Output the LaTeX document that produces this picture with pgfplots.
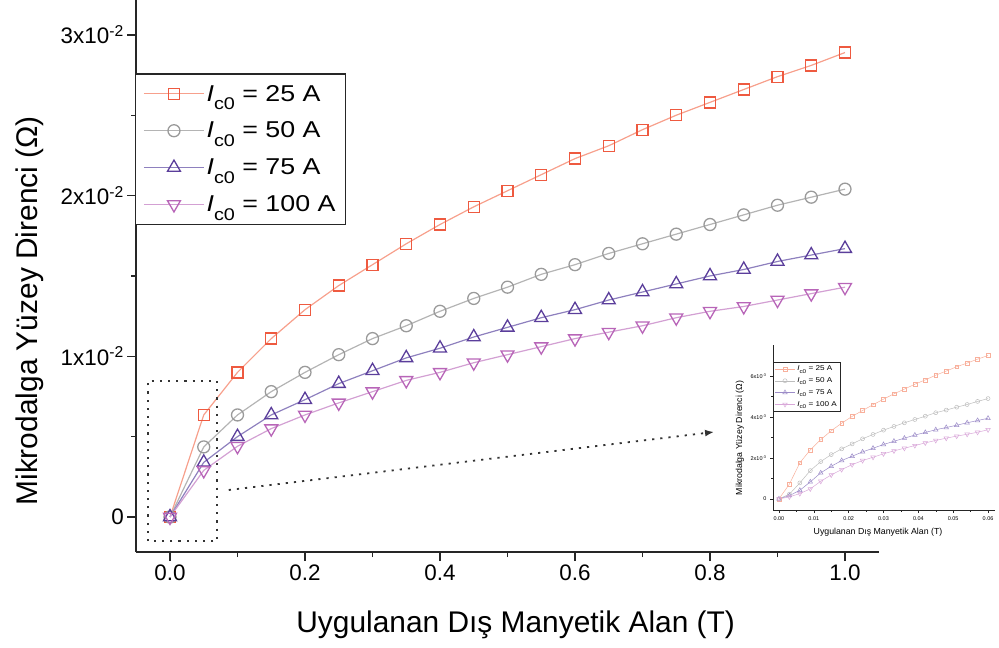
\documentclass[border=0pt]{standalone}
\usepackage{fontspec}
\setmainfont{Liberation Sans}
\newfontfamily\legfont[FakeStretch=1.17]{Liberation Sans}
\usepackage{pgfplots}
\pgfplotsset{compat=1.18}
\usepackage{pgfplotstable}
\usetikzlibrary{arrows.meta}

\definecolor{cAl}{HTML}{F7A08C}\definecolor{cAm}{HTML}{EE5A40}
\definecolor{cBl}{HTML}{B4B4B4}\definecolor{cBm}{HTML}{9A9A9A}
\definecolor{cCl}{HTML}{8E80BE}\definecolor{cCm}{HTML}{5B3E9B}
\definecolor{cDl}{HTML}{D3A0D3}\definecolor{cDm}{HTML}{B865B8}
\definecolor{iA}{HTML}{F8B09C}\definecolor{iB}{HTML}{BDBDBD}
\definecolor{iC}{HTML}{9C8CC8}\definecolor{iD}{HTML}{D9A8D9}

\newcommand{\Ic}{\textit{I}\raisebox{-8.5bp}{\fontsize{17}{18}\selectfont c0}}
\newcommand{\Ics}{\textit{I}\raisebox{-2.5bp}{\fontsize{5.5}{6}\selectfont c0}}

\pgfplotstableread{
x a b c d
0.00 0 0 0 0
0.05 0.00635 0.00436 0.0034 0.0029
0.10 0.0090 0.00635 0.0050 0.0044
0.15 0.0111 0.0078 0.00635 0.0055
0.20 0.0129 0.0090 0.0073 0.00635
0.25 0.0144 0.0101 0.0083 0.0071
0.30 0.0157 0.0111 0.0091 0.0078
0.35 0.0170 0.0119 0.0099 0.0085
0.40 0.0182 0.0128 0.0105 0.0090
0.45 0.0193 0.0136 0.0112 0.0096
0.50 0.0203 0.0143 0.0118 0.0101
0.55 0.0213 0.0151 0.0124 0.0106
0.60 0.0223 0.0157 0.0129 0.0111
0.65 0.0231 0.0164 0.0135 0.0115
0.70 0.0241 0.0170 0.0140 0.0119
0.75 0.0250 0.0176 0.0145 0.0124
0.80 0.0258 0.0182 0.0150 0.0128
0.85 0.0266 0.0188 0.0154 0.0131
0.90 0.0274 0.0194 0.0159 0.0135
0.95 0.0281 0.0199 0.0163 0.0139
1.00 0.0289 0.0204 0.0167 0.0143
}\maintable

\pgfplotstableread{
x a b c d
0.000 0 0 0 0
0.003 0.00072 0.00023 0.00016 0.00010
0.006 0.00176 0.00078 0.00042 0.00026
0.009 0.00239 0.00138 0.00083 0.00049
0.012 0.00289 0.00182 0.00127 0.00086
0.015 0.00332 0.00216 0.00159 0.00117
0.018 0.00369 0.00244 0.00187 0.00143
0.021 0.00402 0.00268 0.00208 0.00167
0.024 0.00431 0.00293 0.00229 0.00187
0.027 0.00459 0.00314 0.00247 0.00203
0.030 0.00486 0.00335 0.00265 0.00220
0.033 0.00512 0.00353 0.00281 0.00234
0.036 0.00535 0.00371 0.00296 0.00247
0.039 0.00559 0.00387 0.00311 0.00260
0.042 0.00580 0.00403 0.00324 0.00273
0.045 0.00603 0.00420 0.00337 0.00285
0.048 0.00623 0.00433 0.00348 0.00296
0.051 0.00644 0.00447 0.00359 0.00306
0.054 0.00662 0.00460 0.00371 0.00315
0.057 0.00681 0.00475 0.00382 0.00325
0.060 0.00699 0.00489 0.00393 0.00337
}\insettable

\begin{document}
\begin{tikzpicture}
\begin{axis}[
  at={(0,0)}, anchor=south west, scale only axis,
  width=742.5bp, height=552bp,
  xmin=-0.05, xmax=1.05, ymin=-0.002178, ymax=0.03217,
  axis x line*=bottom, axis y line*=left,
  axis line style={line width=1.6bp, black!85},
  tick align=outside, major tick length=9bp, minor tick length=5bp,
  every tick/.style={black!85, line width=1.4bp},
  xtick={0,0.2,0.4,0.6,0.8,1.0}, xticklabels={0.0,0.2,0.4,0.6,0.8,1.0},
  minor x tick num=1,
  ytick={0,0.01,0.02,0.03},
  yticklabels={0,1x10\textsuperscript{-2},2x10\textsuperscript{-2},3x10\textsuperscript{-2}},
  minor y tick num=1, scaled y ticks=false,
  tick label style={font=\fontsize{22.5}{26}\selectfont},
  xlabel={Uygulanan Dış Manyetik Alan (T)},
  ylabel={Mikrodalga Yüzey Direnci (Ω)},
  label style={font=\fontsize{30}{34}\selectfont},
  xlabel style={at={(axis description cs:0.511,-0.132)}, anchor=center},
  ylabel style={at={(axis description cs:-0.144,0.437)}, anchor=center, rotate=0},
  clip=false,
  legend style={at={(axis description cs:-0.002,0.867)}, anchor=north west,
    draw=black!85, line width=1.2bp, font=\legfont\fontsize{23}{26}\selectfont,
    inner xsep=8bp, inner ysep=9bp, row sep=15.5bp},
  legend cell align=left,
  legend image code/.code={\draw[mark repeat=2,mark phase=2,#1] plot coordinates {(0bp,0bp) (30bp,0bp) (60bp,0bp)};},
]
\addplot[color=cAl, line width=1.2bp, mark=square, mark size=5.5bp, mark options={draw=cAm, fill=white, line width=1.3bp}] table[x=x,y=a] {\maintable};
\addlegendentry{\Ic{} = 25 A}
\addplot[color=cBl, line width=1.2bp, mark=o, mark size=6bp, mark options={draw=cBm, fill=white, line width=1.3bp}] table[x=x,y=b] {\maintable};
\addlegendentry{\Ic{} = 50 A}
\addplot[color=cCl, line width=1.2bp, mark=triangle, mark size=7.5bp, mark options={draw=cCm, fill=white, line width=1.3bp}] table[x=x,y=c] {\maintable};
\addlegendentry{\Ic{} = 75 A}
\addplot[color=cDl, line width=1.2bp, mark=triangle, mark size=7.5bp, mark options={draw=cDm, fill=white, line width=1.3bp, rotate=180}] table[x=x,y=d] {\maintable};
\addlegendentry{\Ic{} = 100 A}
\draw[black!80, line width=1.8bp, dash pattern=on 2.2bp off 6bp] (axis cs:-0.033,-0.0015) rectangle (axis cs:0.070,0.00846);
\draw[black!80, line width=1.8bp, dash pattern=on 2.2bp off 6bp, -{Latex[length=9bp,width=7bp]}] (axis cs:0.087,0.00168) -- (axis cs:0.806,0.00529);
\end{axis}

\begin{axis}[
  at={(636.75bp,42bp)}, anchor=south west, scale only axis,
  width=222bp, height=165bp,
  xmin=-0.0017, xmax=0.062, ymin=-0.00054, ymax=0.0075,
  axis x line*=bottom, axis y line*=left,
  axis line style={line width=0.6bp, black!85},
  tick align=outside, major tick length=3bp, minor tick length=1.8bp,
  every tick/.style={black!85, line width=0.5bp},
  xtick={0,0.01,0.02,0.03,0.04,0.05,0.06},
  xticklabels={0.00,0.01,0.02,0.03,0.04,0.05,0.06},
  minor x tick num=1,
  ytick={0,0.002,0.004,0.006},
  yticklabels={0,2x10\textsuperscript{-3},4x10\textsuperscript{-3},6x10\textsuperscript{-3}},
  minor y tick num=1, scaled y ticks=false, scaled x ticks=false,
  tick label style={font=\fontsize{5.5}{6}\selectfont},
  xlabel={Uygulanan Dış Manyetik Alan (T)},
  ylabel={Mikrodalga Yüzey Direnci (Ω)},
  label style={font=\fontsize{8.8}{10}\selectfont},
  xlabel style={at={(axis description cs:0.473,-0.133)}, anchor=center},
  ylabel style={at={(axis description cs:-0.149,0.436)}, anchor=center, rotate=0},
  clip=false,
  legend style={at={(axis description cs:0,0.897)}, anchor=north west,
    draw=black!85, line width=0.5bp, font=\legfont\fontsize{7}{8}\selectfont,
    inner xsep=1.5bp, inner ysep=1.5bp, row sep=1.5bp},
  legend cell align=left,
  legend image code/.code={\draw[mark repeat=2,mark phase=2,#1] plot coordinates {(0bp,0bp) (10bp,0bp) (20bp,0bp)};},
]
\addplot[color=iA, line width=0.5bp, mark=square, mark size=1.9bp, mark options={fill=white, line width=0.5bp}] table[x=x,y=a] {\insettable};
\addlegendentry{\Ics{} = 25 A}
\addplot[color=iB, line width=0.5bp, mark=o, mark size=2bp, mark options={fill=white, line width=0.5bp}] table[x=x,y=b] {\insettable};
\addlegendentry{\Ics{} = 50 A}
\addplot[color=iC, line width=0.5bp, mark=triangle, mark size=2.6bp, mark options={fill=white, line width=0.5bp}] table[x=x,y=c] {\insettable};
\addlegendentry{\Ics{} = 75 A}
\addplot[color=iD, line width=0.5bp, mark=triangle, mark size=2.6bp, mark options={fill=white, line width=0.5bp, rotate=180}] table[x=x,y=d] {\insettable};
\addlegendentry{\Ics{} = 100 A}
\end{axis}
\pgfresetboundingbox
\path (-136.25bp,-96bp) rectangle (862.75bp,552bp);
\end{tikzpicture}
\end{document}
